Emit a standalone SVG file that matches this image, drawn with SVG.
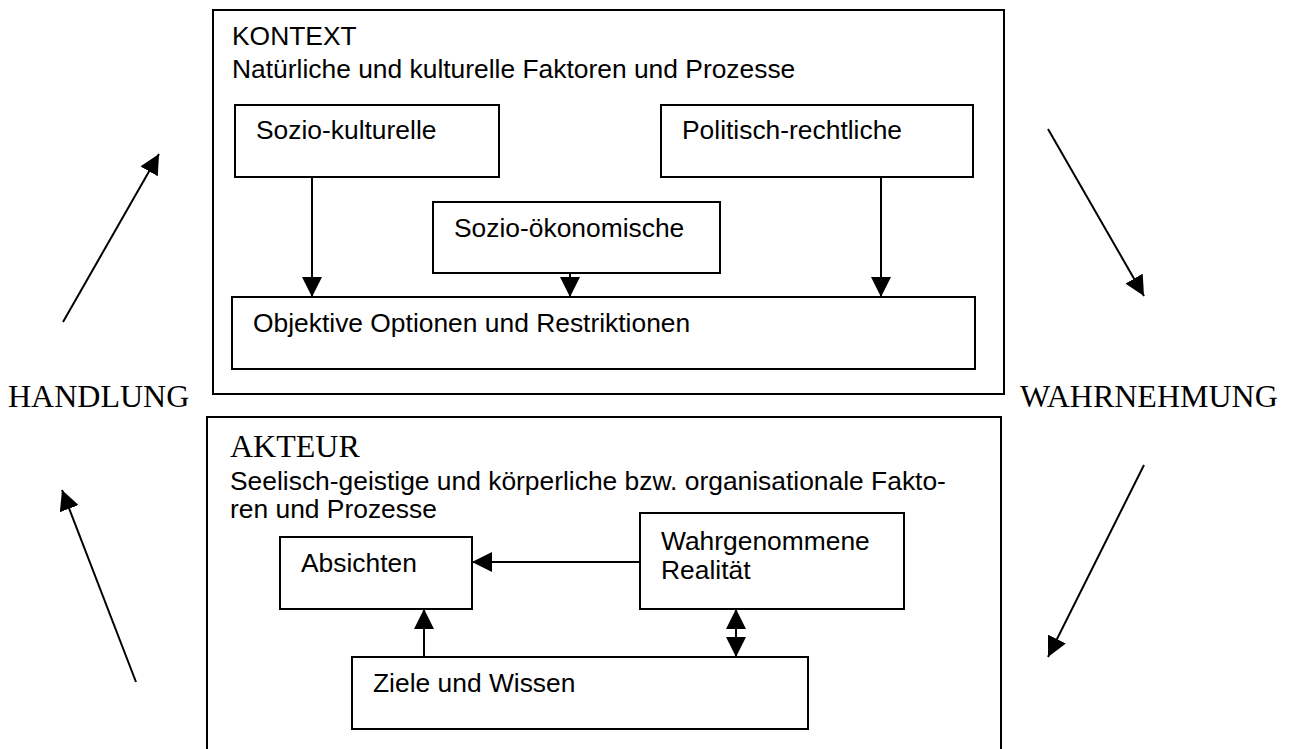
<svg xmlns="http://www.w3.org/2000/svg" width="1298" height="749" viewBox="0 0 1298 749">
<defs>
<style>
.box{fill:#fff;stroke:#000;stroke-width:2}
.ln{fill:none;stroke:#000;stroke-width:2}
.s{font-family:"Liberation Sans",Arial,sans-serif;font-size:26.4px;fill:#000}
.r{font-family:"Liberation Serif","Times New Roman",serif;font-size:32px;fill:#000}
</style>
<marker id="ah" viewBox="0 0 20 20" refX="20" refY="10" markerWidth="20" markerHeight="20" markerUnits="userSpaceOnUse" orient="auto-start-reverse"><path d="M0,0 L20,10 L0,20 Z" fill="#000"/></marker>
</defs>
<rect width="1298" height="749" fill="#fff"/>
<g id="kontext">
<rect class="box" x="213" y="10" width="791" height="384"/>
<text class="s" x="232" y="45">KONTEXT</text>
<text class="s" x="232" y="78">Natürliche und kulturelle Faktoren und Prozesse</text>
</g>
<g id="sozio-kulturelle"><rect class="box" x="235" y="105" width="264" height="72"/><text class="s" x="256" y="139">Sozio-kulturelle</text></g>
<g id="politisch-rechtliche"><rect class="box" x="661" y="105" width="312" height="72"/><text class="s" x="682" y="139">Politisch-rechtliche</text></g>
<g id="sozio-oekonomische"><rect class="box" x="433" y="202" width="287" height="71"/><text class="s" x="454" y="237">Sozio-ökonomische</text></g>
<g id="objektive"><rect class="box" x="232" y="297" width="743" height="72"/><text class="s" x="253" y="332">Objektive Optionen und Restriktionen</text></g>
<g id="handlung"><text class="r" x="8" y="407">HANDLUNG</text></g>
<g id="wahrnehmung"><text class="r" x="1020" y="407">WAHRNEHMUNG</text></g>
<g id="akteur">
<path class="ln" d="M207,749 V417 H1001 V749"/>
<text class="r" x="230" y="457">AKTEUR</text>
<text class="s" x="230" y="490">Seelisch-geistige und körperliche bzw. organisationale Fakto-</text>
<text class="s" x="230" y="518">ren und Prozesse</text>
</g>
<g id="absichten"><rect class="box" x="280" y="537" width="192" height="72"/><text class="s" x="301" y="572">Absichten</text></g>
<g id="wahrgenommene"><rect class="box" x="640" y="513" width="264" height="96"/><text class="s" x="661" y="550">Wahrgenommene</text><text class="s" x="661" y="579">Realität</text></g>
<g id="ziele"><rect class="box" x="352" y="657" width="456" height="72"/><text class="s" x="373" y="692">Ziele und Wissen</text></g>
<g id="connectors">
<line class="ln" x1="312" y1="177" x2="312" y2="297" marker-end="url(#ah)"/>
<line class="ln" x1="570" y1="273" x2="570" y2="297" marker-end="url(#ah)"/>
<line class="ln" x1="881" y1="177" x2="881" y2="297" marker-end="url(#ah)"/>
<line class="ln" x1="640" y1="562" x2="472" y2="562" marker-end="url(#ah)"/>
<line class="ln" x1="424" y1="657" x2="424" y2="609" marker-end="url(#ah)"/>
<line class="ln" x1="736" y1="609" x2="736" y2="657" marker-start="url(#ah)" marker-end="url(#ah)"/>
<line class="ln" x1="726" y1="633" x2="746" y2="633" style="stroke-width:1;display:none"/>
<line class="ln" x1="1048" y1="129" x2="1144" y2="296" marker-end="url(#ah)"/>
<line class="ln" x1="1144" y1="465" x2="1048" y2="657" marker-end="url(#ah)"/>
<line class="ln" x1="136" y1="682" x2="62" y2="490" marker-end="url(#ah)"/>
<line class="ln" x1="63" y1="322" x2="159" y2="154" marker-end="url(#ah)"/>
</g>
</svg>
